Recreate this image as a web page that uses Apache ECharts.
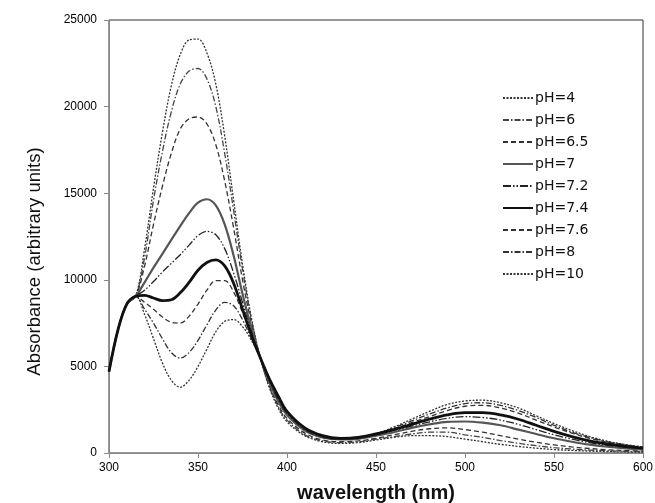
<!DOCTYPE html>
<html>
<head>
<meta charset="utf-8">
<script src="https://cdn.jsdelivr.net/npm/echarts@6/dist/echarts.min.js"></script>
<style>
	html, body { margin: 0; padding: 0; background: #fff; }
	#chart { width: 655px; height: 503px; }
</style>
</head>
<body>
<div id="chart"></div>
<script>
	// wavelength grid (nm)
	const wavelengths = [300, 305, 310, 315, 320, 325, 330, 335, 340, 345, 350, 355, 360, 365, 370, 375, 380, 385, 390, 395,
		400, 410, 420, 430, 440, 450, 460, 470, 480, 490, 500, 510, 520, 530, 540, 550, 560, 570, 580, 590, 600]

	const phLabels = ['pH=4', 'pH=6', 'pH=6.5', 'pH=7', 'pH=7.2', 'pH=7.4', 'pH=7.6', 'pH=8', 'pH=10']

	const ph4 = [4700, 7100, 8600, 9050, 11800, 15300, 18500, 21200, 23000, 23850, 23900, 23100, 21300, 18300, 14600, 10900, 7800, 5500, 3800, 2600,
		1800, 1000, 650, 550, 600, 750, 900, 1000, 1000, 950, 800, 650, 500, 380, 280, 200, 150, 110, 80, 60, 50]
	const ph6 = [4700, 7100, 8600, 9050, 11300, 14600, 17400, 19700, 21300, 22050, 22200, 21600, 20000, 17300, 14000, 10600, 7700, 5500, 3850, 2700,
		1900, 1050, 700, 600, 650, 800, 950, 1100, 1200, 1200, 1050, 900, 720, 560, 420, 310, 230, 170, 130, 100, 80]
	const ph65 = [4700, 7100, 8600, 9050, 10800, 13200, 15400, 17300, 18700, 19300, 19400, 19000, 17800, 15700, 13000, 10000, 7500, 5500, 3900, 2800,
		2000, 1150, 750, 650, 700, 850, 1050, 1250, 1400, 1450, 1350, 1200, 1000, 800, 620, 470, 350, 260, 190, 140, 110]
	const ph7 = [4700, 7100, 8600, 9050, 9850, 10700, 11500, 12300, 13100, 13850, 14450, 14650, 14300, 13200, 11400, 9200, 7200, 5500, 4100, 3000,
		2200, 1300, 900, 780, 820, 1000, 1200, 1450, 1650, 1800, 1820, 1750, 1600, 1350, 1100, 850, 650, 480, 360, 270, 200]
	const ph72 = [4700, 7100, 8600, 9050, 9400, 9900, 10450, 10950, 11450, 12000, 12550, 12800, 12600, 11800, 10400, 8700, 7000, 5500, 4200, 3100,
		2300, 1350, 920, 800, 850, 1050, 1300, 1550, 1800, 2000, 2100, 2050, 1900, 1650, 1350, 1050, 800, 600, 440, 330, 250]
	const ph74 = [4700, 7100, 8600, 9050, 9100, 8950, 8800, 8850, 9250, 9850, 10550, 11000, 11150, 10800, 9800, 8300, 6800, 5500, 4300, 3300,
		2400, 1450, 1000, 850, 900, 1100, 1350, 1650, 1950, 2200, 2330, 2330, 2200, 1950, 1600, 1250, 950, 700, 520, 380, 280]
	const ph76 = [4700, 7100, 8600, 9050, 8700, 8300, 7850, 7550, 7500, 7900, 8600, 9400, 9950, 9950, 9300, 8100, 6800, 5500, 4300, 3300,
		2400, 1400, 950, 820, 880, 1100, 1400, 1750, 2100, 2450, 2700, 2750, 2600, 2300, 1900, 1500, 1150, 850, 620, 450, 320]
	const ph8 = [4700, 7100, 8600, 9050, 8300, 7500, 6600, 5800, 5480, 5800, 6500, 7400, 8250, 8700, 8500, 7700, 6600, 5500, 4300, 3300,
		2400, 1400, 900, 800, 870, 1100, 1450, 1850, 2250, 2600, 2850, 2900, 2750, 2450, 2050, 1600, 1200, 900, 650, 470, 330]
	const ph10 = [4700, 7100, 8600, 9050, 8000, 6600, 5200, 4200, 3800, 4200, 5000, 6000, 7000, 7600, 7700, 7300, 6500, 5500, 4350, 3350,
		2450, 1400, 900, 800, 880, 1120, 1500, 1950, 2400, 2800, 3000, 3050, 2900, 2600, 2150, 1700, 1300, 950, 680, 490, 350]

	const seriesData = [ph4, ph6, ph65, ph7, ph72, ph74, ph76, ph8, ph10]

	// line looks per curve
	const styles = [
		{ color: '#333', width: 1.3, type: [2, 1.5] },
		{ color: '#444', width: 1.3, type: [6, 2, 1.5, 2] },
		{ color: '#333', width: 1.3, type: [5, 3] },
		{ color: '#555', width: 2.2, type: 'solid' },
		{ color: '#222', width: 1.3, type: [8, 2, 1.5, 2, 1.5, 2] },
		{ color: '#111', width: 2.8, type: 'solid' },
		{ color: '#333', width: 1.3, type: [5, 3] },
		{ color: '#333', width: 1.3, type: [6, 2, 1.5, 2] },
		{ color: '#333', width: 1.3, type: [2, 1.5] }
	]

	const series = phLabels.map((name, i) => ({
		name: name,
		type: 'line',
		smooth: 0.35,
		symbol: 'none',
		data: wavelengths.map((w, k) => [w, seriesData[i][k]]),
		lineStyle: styles[i],
		itemStyle: { color: styles[i].color },
		z: i === 5 ? 5 : 2
	}))

	const chart = echarts.init(document.getElementById('chart'))
	chart.setOption({
		animation: false,
		backgroundColor: '#fff',
		textStyle: { fontFamily: 'Liberation Sans, Arial, sans-serif' },
		grid: {
			left: 109,
			right: 12,
			top: 20,
			bottom: 50,
			outerBoundsMode: 'none',
			show: true,
			borderColor: '#333',
			borderWidth: 1
		},
		legend: {
			orient: 'vertical',
			left: 497,
			top: 86,
			itemWidth: 30,
			itemHeight: 14,
			itemGap: 8,
			itemStyle: { opacity: 0 },
			textStyle: { fontSize: 14, color: '#111', fontFamily: 'DejaVu Sans', padding: [0, 0, 0, -3] },
			data: phLabels
		},
		xAxis: {
			type: 'value',
			min: 300,
			max: 600,
			interval: 50,
			name: 'wavelength (nm)',
			nameLocation: 'middle',
			nameGap: 30,
			nameTextStyle: { fontSize: 20, fontWeight: 'bold', color: '#111' },
			axisLine: { lineStyle: { color: '#888' } },
			axisTick: { lineStyle: { color: '#888' }, length: 5 },
			axisLabel: { fontSize: 12, color: '#000', margin: 9 },
			splitLine: { show: false }
		},
		yAxis: {
			type: 'value',
			min: 0,
			max: 25000,
			interval: 5000,
			name: 'Absorbance (arbitrary units)',
			nameLocation: 'middle',
			nameGap: 65,
			nameTextStyle: { fontSize: 18.5, color: '#111', padding: [0, 50, 0, 0] },
			axisLine: { show: true, lineStyle: { color: '#888' } },
			axisTick: { show: true, lineStyle: { color: '#888' }, length: 5 },
			axisLabel: { fontSize: 12, color: '#000', margin: 12, formatter: v => String(v) },
			splitLine: { show: false }
		},
		series: series
	})
</script>
</body>
</html>
